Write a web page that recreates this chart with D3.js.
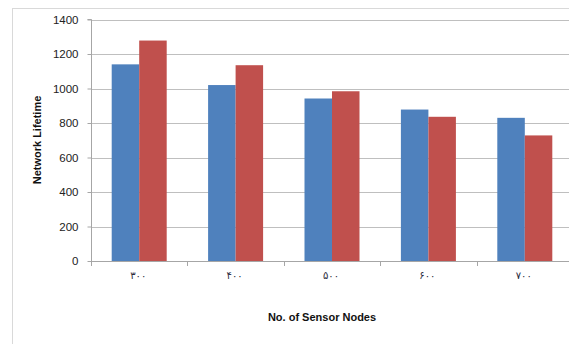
<!DOCTYPE html>
<html>
<head>
<meta charset="utf-8">
<script src="https://cdn.jsdelivr.net/npm/d3@7"></script>
<style>
  html, body { margin: 0; padding: 0; background: #fff; }
  svg { display: block; }
</style>
</head>
<body>
<svg id="chart" width="569" height="344"></svg>
<script>
// Network lifetime per number of sensor nodes, two protocols compared
const categories = ["۳۰۰", "۴۰۰", "۵۰۰", "۶۰۰", "۷۰۰"];
const seriesA = [1140, 1020, 942, 878, 830];
const seriesB = [1278, 1135, 984, 836, 728];
const yTicks = [0, 200, 400, 600, 800, 1000, 1200, 1400];
const colors = ["#4F81BD", "#C0504D"];

const svg = d3.select("#chart");
const plot = { left: 91, right: 573, top: 19.5, bottom: 261 };

// outer chart frame
svg.append("rect")
  .attr("x", 12.5).attr("y", 8.5)
  .attr("width", 600).attr("height", 400)
  .attr("fill", "none").attr("stroke", "#d9d9d9");

const x = d3.scaleBand().domain(categories).range([plot.left, plot.right]);
const y = d3.scaleLinear().domain([0, 1400]).range([plot.bottom, plot.top]);

// horizontal gridlines
svg.append("g").selectAll("line")
  .data(yTicks.filter(d => d > 0))
  .join("line")
  .attr("x1", plot.left).attr("x2", plot.right)
  .attr("y1", d => Math.round(y(d)) + 0.5).attr("y2", d => Math.round(y(d)) + 0.5)
  .attr("stroke", "#bfbfbf").attr("stroke-width", 1);

// bars
const barW = 27.5;
const groups = categories.map((c, i) => ({ c, vals: [seriesA[i], seriesB[i]] }));
svg.append("g").selectAll("g")
  .data(groups)
  .join("g")
  .each(function(g) {
    const cx = x(g.c) + x.bandwidth() / 2;
    d3.select(this).selectAll("rect")
      .data(g.vals)
      .join("rect")
      .attr("x", (v, j) => cx - barW + j * barW)
      .attr("y", v => y(v))
      .attr("width", barW)
      .attr("height", v => plot.bottom - y(v))
      .attr("fill", (v, j) => colors[j]);
  });

// y axis
const yAxis = svg.append("g")
  .attr("transform", `translate(${plot.left + 0.5},0)`)
  .call(d3.axisLeft(y).tickValues(yTicks).tickFormat(d3.format("d")).tickSize(4).tickPadding(9));
yAxis.select(".domain").attr("stroke", "#a6a6a6").attr("d", `M-4,${plot.top}H0V${plot.bottom}`);
yAxis.selectAll(".tick line").attr("stroke", "#a6a6a6");
yAxis.selectAll(".tick text")
  .attr("fill", "#222")
  .style("font-family", "'Liberation Sans', Arial, sans-serif")
  .style("font-size", "11.5px");

// x axis
const xAxis = svg.append("g")
  .attr("transform", `translate(0,${plot.bottom + 0.5})`)
  .call(d3.axisBottom(x).tickSize(0).tickPadding(10));
xAxis.select(".domain").attr("stroke", "#a6a6a6").attr("d", `M${plot.left},0H${plot.right}`);
xAxis.selectAll(".tick text")
  .attr("fill", "#2a2a3a")
  .attr("dx", "-1")
  .style("font-family", "'DejaVu Sans', sans-serif")
  .style("font-size", "10px")
  .style("letter-spacing", "2.5px");
// category separator ticks
svg.append("g").selectAll("line")
  .data(categories)
  .join("line")
  .attr("x1", d => Math.round(x(d)) + 0.5).attr("x2", d => Math.round(x(d)) + 0.5)
  .attr("y1", plot.bottom).attr("y2", plot.bottom + 5)
  .attr("stroke", "#a6a6a6");

// axis titles
svg.append("text")
  .attr("x", 322).attr("y", 321)
  .attr("text-anchor", "middle")
  .style("font-family", "'Liberation Sans', Arial, sans-serif")
  .style("font-size", "11px").style("font-weight", "bold")
  .attr("fill", "#111")
  .text("No. of Sensor Nodes");

svg.append("text")
  .attr("transform", "translate(41,140) rotate(-90)")
  .attr("text-anchor", "middle")
  .style("font-family", "'Liberation Sans', Arial, sans-serif")
  .style("font-size", "11px").style("font-weight", "bold")
  .attr("fill", "#111")
  .text("Network Lifetime");
</script>
</body>
</html>
